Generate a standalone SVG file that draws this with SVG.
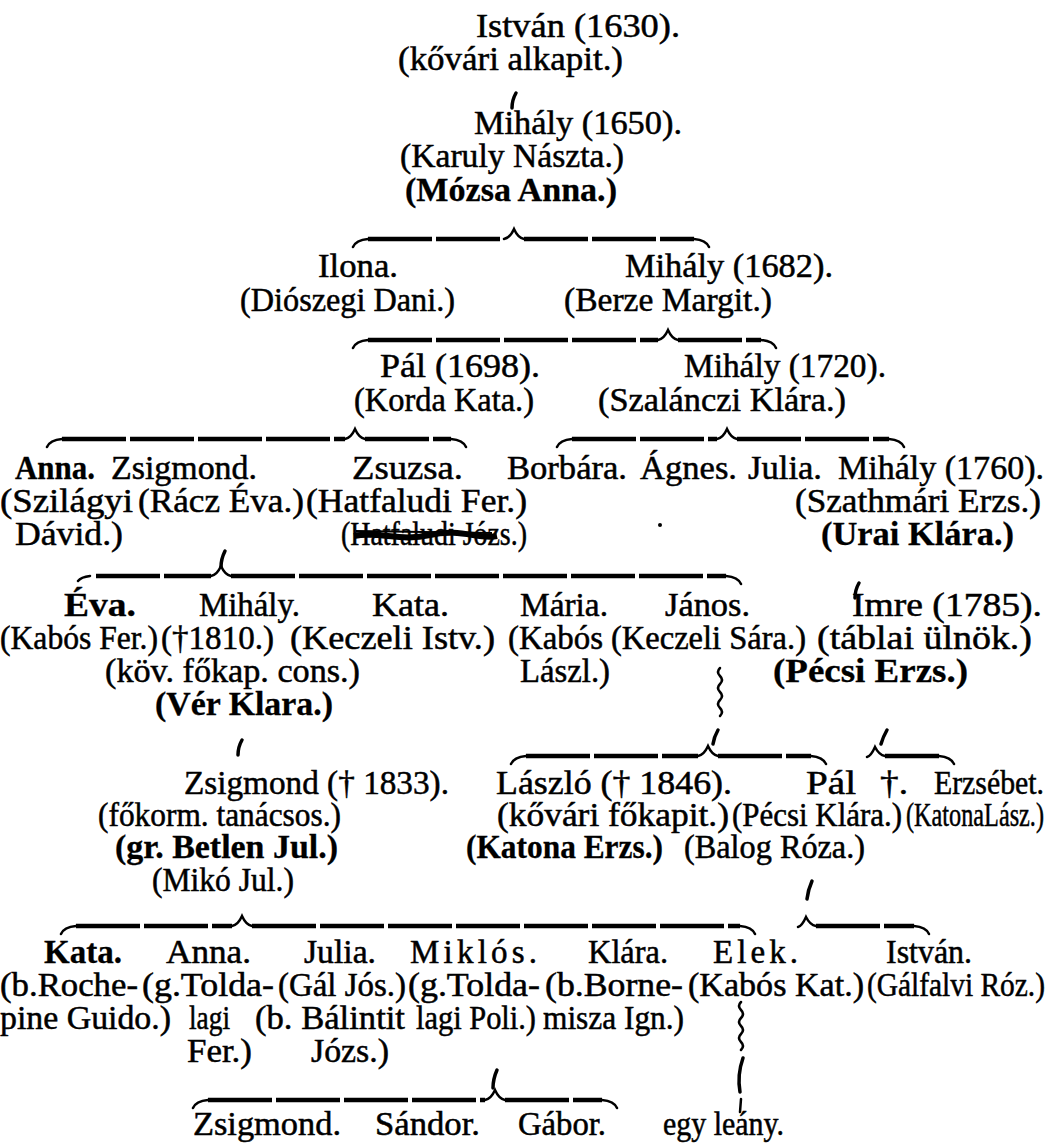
<svg xmlns="http://www.w3.org/2000/svg" width="1056" height="1145" viewBox="0 0 1056 1145">
<style>
text{font-family:"Liberation Serif","Times New Roman",serif;font-size:33px;fill:#000;stroke:#000;stroke-width:0.5}
.b{font-weight:bold;stroke-width:0.3}
.bm{fill:none;stroke:#000;stroke-width:4.5;stroke-dasharray:64 4}
.bt{fill:none;stroke:#000;stroke-width:2.5;stroke-linecap:round}
.tk{fill:none;stroke:#000;stroke-width:3.5;stroke-linecap:round}
.sq{fill:none;stroke:#000;stroke-width:2.5;stroke-linecap:round}
.sk{fill:none;stroke:#000}
</style>
<rect width="1056" height="1145" fill="#fff"/>
<g id="connectors">
<path class="bt" d="M353,247 Q356,240 368,239 M504,239 Q510,238 514,229 Q518,238 524,239 M694,239 Q706,240 709,247"/>
<path class="bm" d="M368,239 H504 M524,239 H694"/>
<path class="bt" d="M353,348 Q356,341 368,340 M658,340 Q664,339 668,330 Q672,339 678,340 M761,340 Q773,341 776,348"/>
<path class="bm" d="M368,340 H658 M678,340 H761"/>
<path class="bt" d="M47,447 Q50,440 62,439 M345,439 Q351,438 355,429 Q359,438 365,439 M451,439 Q463,440 466,447"/>
<path class="bm" d="M62,439 H345 M365,439 H451"/>
<path class="bt" d="M557,447 Q560,440 572,439 M717,439 Q723,438 727,429 Q731,438 737,439 M889,439 Q901,440 904,447"/>
<path class="bm" d="M572,439 H717 M737,439 H889"/>
<path class="bt" d="M78,581 Q81,577 90,576 M211,576 Q217,575 221,566 Q225,575 231,576 M726,576 Q738,577 741,584"/>
<path class="bm" d="M96,576 H211 M231,576 H726"/>
<path class="bt" d="M511,764 Q514,757 526,756 M698,756 Q704,755 708,746 Q712,755 718,756 M811,756 Q823,757 826,764"/>
<path class="bm" d="M526,756 H698 M718,756 H811"/>
<path class="bt" d="M867,757 Q871,756 875,747 Q879,755 885,756 M939,756 Q951,757 954,764"/>
<path class="bm" d="M885,756 H939"/>
<path class="bt" d="M61,934 Q64,927 76,926 M232,926 Q238,925 242,916 Q246,925 252,926 M740,926 Q752,927 755,934"/>
<path class="bm" d="M76,926 H232 M252,926 H740"/>
<path class="bt" d="M798,927 Q802,926 806,917 Q810,925 816,926 M914,926 Q926,927 929,934"/>
<path class="bm" d="M816,926 H914"/>
<path class="bt" d="M193,1108 Q196,1101 208,1100 M485,1100 Q491,1099 495,1090 Q499,1099 505,1100 M602,1100 Q614,1101 617,1108"/>
<path class="bm" d="M208,1100 H485 M505,1100 H602"/>
<path class="tk" d="M516,93 Q512,100 512,108"/>
<path class="tk" d="M225,551 Q221,559 221,567"/>
<path class="tk" d="M859,583 Q855,590 855,598"/>
<path class="tk" d="M718,730 Q714,737 713,744"/>
<path class="tk" d="M887,730 Q883,737 881,744"/>
<path class="tk" d="M242,740 Q238,747 238,755"/>
<path class="tk" d="M812,881 Q808,890 807,899"/>
<path class="tk" d="M743,1058 Q737,1075 740,1092"/>
<path class="bt" d="M741,1099 L740,1112"/>
<path class="tk" d="M497,1070 Q493,1079 493,1088"/>
<path class="sq" d="M720,668 q-4,4 0,8 q4,4 0,8 q-4,4 0,8 q4,4 0,8 q-4,4 0,8 q4,4 0,8"/>
<path class="sq" d="M741,1002 q-4,4 0,8 q4,4 0,8 q-4,4 0,8 q4,4 0,8 q-4,4 0,8 q4,4 0,8"/>
</g>
<g id="p-istvan-1630"><text x="476" y="37" textLength="204" lengthAdjust="spacingAndGlyphs">István (1630).</text><text x="398" y="70" textLength="225" lengthAdjust="spacingAndGlyphs">(kővári alkapit.)</text></g>
<g id="p-mihaly-1650"><text x="474" y="134" textLength="208" lengthAdjust="spacingAndGlyphs">Mihály (1650).</text><text x="400" y="167" textLength="224" lengthAdjust="spacingAndGlyphs">(Karuly Nászta.)</text><text class="b" x="405" y="201" textLength="212" lengthAdjust="spacingAndGlyphs">(Mózsa Anna.)</text></g>
<g id="p-ilona"><text x="318" y="277" textLength="80" lengthAdjust="spacingAndGlyphs">Ilona.</text><text x="240" y="311" textLength="215" lengthAdjust="spacingAndGlyphs">(Diószegi Dani.)</text></g>
<g id="p-mihaly-1682"><text x="625" y="277" textLength="208" lengthAdjust="spacingAndGlyphs">Mihály (1682).</text><text x="564" y="311" textLength="208" lengthAdjust="spacingAndGlyphs">(Berze Margit.)</text></g>
<g id="p-pal-1698"><text x="380" y="377" textLength="160" lengthAdjust="spacingAndGlyphs">Pál (1698).</text><text x="354" y="411" textLength="180" lengthAdjust="spacingAndGlyphs">(Korda Kata.)</text></g>
<g id="p-mihaly-1720"><text x="684" y="377" textLength="202" lengthAdjust="spacingAndGlyphs">Mihály (1720).</text><text x="598" y="411" textLength="248" lengthAdjust="spacingAndGlyphs">(Szalánczi Klára.)</text></g>
<g id="p-anna"><text class="b" x="15" y="479" textLength="80" lengthAdjust="spacingAndGlyphs">Anna.</text><text x="0" y="512" textLength="133" lengthAdjust="spacingAndGlyphs">(Szilágyi</text><text x="15" y="545" textLength="108" lengthAdjust="spacingAndGlyphs">Dávid.)</text></g>
<g id="p-zsigmond"><text x="111" y="479" textLength="146" lengthAdjust="spacingAndGlyphs">Zsigmond.</text><text x="138" y="512" textLength="166" lengthAdjust="spacingAndGlyphs">(Rácz Éva.)</text></g>
<g id="p-zsuzsa"><text x="352" y="479" textLength="111" lengthAdjust="spacingAndGlyphs">Zsuzsa.</text><text x="306" y="512" textLength="221" lengthAdjust="spacingAndGlyphs">(Hatfaludi Fer.)</text><text x="341" y="545" textLength="186" lengthAdjust="spacingAndGlyphs">(Hatfaludi Józs.)</text>
<path class="sk" stroke-width="6" d="M354,536 C380,531 400,542 430,535 S480,540 497,536"/><path class="sk" stroke-width="2" d="M356,531 L492,533"/></g>
<g id="p-borbara"><text x="507" y="479" textLength="120" lengthAdjust="spacingAndGlyphs">Borbára.</text></g>
<g id="p-agnes"><text x="640" y="479" textLength="97" lengthAdjust="spacingAndGlyphs">Ágnes.</text></g>
<g id="p-julia"><text x="748" y="479" textLength="74" lengthAdjust="spacingAndGlyphs">Julia.</text></g>
<g id="p-mihaly-1760"><text x="838" y="479" textLength="206" lengthAdjust="spacingAndGlyphs">Mihály (1760).</text><text x="795" y="512" textLength="246" lengthAdjust="spacingAndGlyphs">(Szathmári Erzs.)</text><text class="b" x="821" y="545" textLength="193" lengthAdjust="spacingAndGlyphs">(Urai Klára.)</text></g>
<circle cx="660" cy="525" r="2"/>
<g id="p-eva"><text class="b" x="64" y="616" textLength="72" lengthAdjust="spacingAndGlyphs">Éva.</text><text x="0" y="649" textLength="158" lengthAdjust="spacingAndGlyphs">(Kabós Fer.)</text></g>
<g id="p-mihaly"><text x="199" y="616" textLength="101" lengthAdjust="spacingAndGlyphs">Mihály.</text><text x="161" y="649" textLength="113" lengthAdjust="spacingAndGlyphs">(†1810.)</text><text x="105" y="682" textLength="255" lengthAdjust="spacingAndGlyphs">(köv. főkap. cons.)</text><text class="b" x="155" y="715" textLength="178" lengthAdjust="spacingAndGlyphs">(Vér Klara.)</text></g>
<g id="p-kata"><text x="372" y="616" textLength="77" lengthAdjust="spacingAndGlyphs">Kata.</text><text x="290" y="649" textLength="205" lengthAdjust="spacingAndGlyphs">(Keczeli Istv.)</text></g>
<g id="p-maria"><text x="520" y="616" textLength="88" lengthAdjust="spacingAndGlyphs">Mária.</text><text x="508" y="649" textLength="95" lengthAdjust="spacingAndGlyphs">(Kabós</text><text x="520" y="682" textLength="90" lengthAdjust="spacingAndGlyphs">Lászl.)</text></g>
<g id="p-janos"><text x="665" y="616" textLength="85" lengthAdjust="spacingAndGlyphs">János.</text><text x="611" y="649" textLength="195" lengthAdjust="spacingAndGlyphs">(Keczeli Sára.)</text></g>
<g id="p-imre"><text x="852" y="616" textLength="190" lengthAdjust="spacingAndGlyphs">Imre (1785).</text><text x="817" y="649" textLength="215" lengthAdjust="spacingAndGlyphs">(táblai ülnök.)</text><text class="b" x="773" y="682" textLength="195" lengthAdjust="spacingAndGlyphs">(Pécsi Erzs.)</text></g>
<g id="p-zsigmond-1833"><text x="184" y="794" textLength="265" lengthAdjust="spacingAndGlyphs">Zsigmond († 1833).</text><text x="98" y="826" textLength="243" lengthAdjust="spacingAndGlyphs">(főkorm. tanácsos.)</text><text class="b" x="115" y="858" textLength="223" lengthAdjust="spacingAndGlyphs">(gr. Betlen Jul.)</text><text x="152" y="891" textLength="142" lengthAdjust="spacingAndGlyphs">(Mikó Jul.)</text></g>
<g id="p-laszlo"><text x="496" y="794" textLength="236" lengthAdjust="spacingAndGlyphs">László († 1846).</text><text x="497" y="826" textLength="232" lengthAdjust="spacingAndGlyphs">(kővári főkapit.)</text><text class="b" x="466" y="858" textLength="197" lengthAdjust="spacingAndGlyphs">(Katona Erzs.)</text></g>
<g id="p-pal"><text x="806" y="794" textLength="50" lengthAdjust="spacingAndGlyphs">Pál</text><text x="880" y="794" textLength="28" lengthAdjust="spacingAndGlyphs">†.</text><text x="732" y="826" textLength="170" lengthAdjust="spacingAndGlyphs">(Pécsi Klára.)</text><text x="684" y="858" textLength="181" lengthAdjust="spacingAndGlyphs">(Balog Róza.)</text></g>
<g id="p-erzsebet"><text x="934" y="794" textLength="110" lengthAdjust="spacingAndGlyphs">Erzsébet.</text><text x="906" y="826" textLength="138" lengthAdjust="spacingAndGlyphs">(KatonaLász.)</text></g>
<g id="p-kata-2"><text class="b" x="44" y="963" textLength="78" lengthAdjust="spacingAndGlyphs">Kata.</text><text x="0" y="996" textLength="138" lengthAdjust="spacingAndGlyphs">(b.Roche-</text><text x="0" y="1029" textLength="171" lengthAdjust="spacingAndGlyphs">pine Guido.)</text></g>
<g id="p-anna-2"><text x="166" y="963" textLength="85" lengthAdjust="spacingAndGlyphs">Anna.</text><text x="142" y="996" textLength="132" lengthAdjust="spacingAndGlyphs">(g.Tolda-</text><text x="189" y="1029" textLength="41" lengthAdjust="spacingAndGlyphs">lagi</text><text x="187" y="1062" textLength="65" lengthAdjust="spacingAndGlyphs">Fer.)</text></g>
<g id="p-julia-2"><text x="304" y="963" textLength="72" lengthAdjust="spacingAndGlyphs">Julia.</text><text x="278" y="996" textLength="128" lengthAdjust="spacingAndGlyphs">(Gál Jós.)</text><text x="255" y="1029" textLength="150" lengthAdjust="spacingAndGlyphs">(b. Bálintit</text><text x="311" y="1062" textLength="78" lengthAdjust="spacingAndGlyphs">Józs.)</text></g>
<g id="p-miklos"><text x="410" y="963" textLength="127" lengthAdjust="spacing">Miklós.</text><text x="408" y="996" textLength="132" lengthAdjust="spacingAndGlyphs">(g.Tolda-</text><text x="416" y="1029" textLength="120" lengthAdjust="spacingAndGlyphs">lagi Poli.)</text></g>
<g id="p-klara"><text x="588" y="963" textLength="80" lengthAdjust="spacingAndGlyphs">Klára.</text><text x="545" y="996" textLength="138" lengthAdjust="spacingAndGlyphs">(b.Borne-</text><text x="543" y="1029" textLength="141" lengthAdjust="spacingAndGlyphs">misza Ign.)</text></g>
<g id="p-elek"><text x="713" y="963" textLength="85" lengthAdjust="spacing">Elek.</text><text x="688" y="996" textLength="176" lengthAdjust="spacingAndGlyphs">(Kabós Kat.)</text></g>
<g id="p-istvan"><text x="886" y="963" textLength="86" lengthAdjust="spacingAndGlyphs">István.</text><text x="867" y="996" textLength="178" lengthAdjust="spacingAndGlyphs">(Gálfalvi Róz.)</text></g>
<g id="p-zsigmond-3"><text x="193" y="1135" textLength="148" lengthAdjust="spacingAndGlyphs">Zsigmond.</text></g>
<g id="p-sandor"><text x="375" y="1135" textLength="105" lengthAdjust="spacingAndGlyphs">Sándor.</text></g>
<g id="p-gabor"><text x="518" y="1135" textLength="88" lengthAdjust="spacingAndGlyphs">Gábor.</text></g>
<g id="p-egy-leany"><text x="663" y="1135" textLength="121" lengthAdjust="spacingAndGlyphs">egy leány.</text></g>
</svg>
